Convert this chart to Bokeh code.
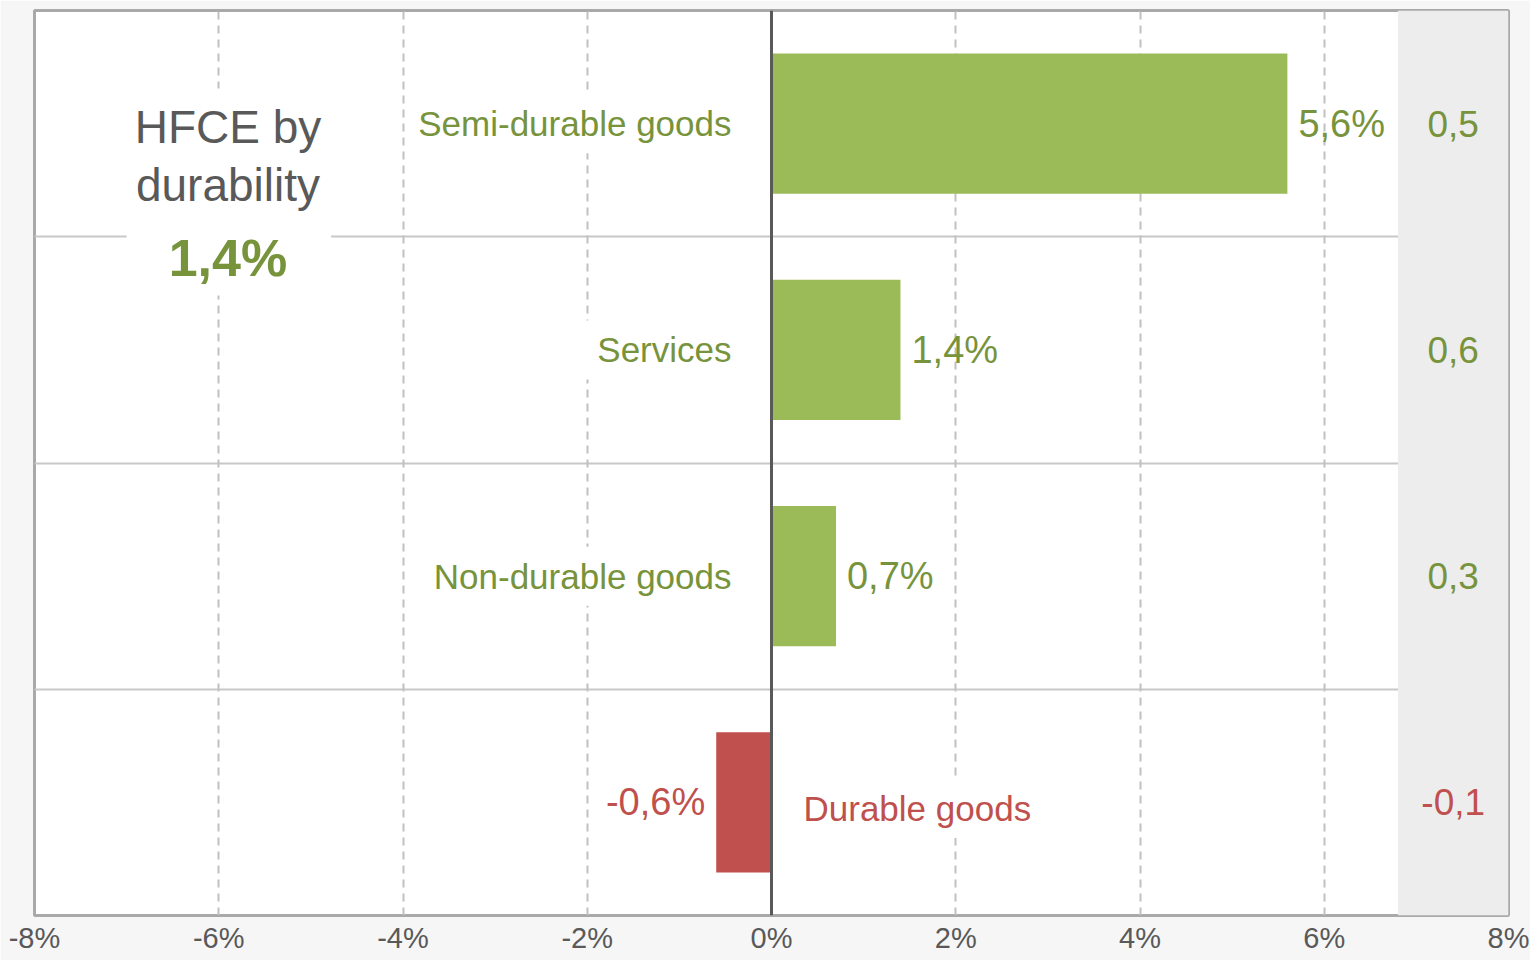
from bokeh.plotting import figure
from bokeh.models import Range1d, FixedTicker, PrintfTickFormatter, Span, BoxAnnotation, ColumnDataSource
from bokeh.core.properties import value
from bokeh.embed import file_html
from bokeh.resources import INLINE

# ---- data ----
categories = ["Semi-durable goods", "Services", "Non-durable goods", "Durable goods"]
growth = [5.6, 1.4, 0.7, -0.6]            # annual growth, %
contribution = [0.5, 0.6, 0.3, -0.1]      # contribution to HFCE growth, pp
total_growth = 1.4
title_lines = ["HFCE by", "durability"]
x_ticks = [-8, -6, -4, -2, 0, 2, 4, 6, 8]

GREEN_BAR = "#9BBB59"
GREEN_TXT = "#77933C"
RED = "#C0504D"
GREY_TXT = "#595959"
FONT = "Liberation Sans"

def fmt(v, pct=True):
    s = f"{v:.1f}".replace(".", ",")
    return s + ("%" if pct else "")

n = len(categories)
ypos = [n - i - 0.5 for i in range(n)]
bar_col = [GREEN_BAR if g >= 0 else RED for g in growth]
txt_col = [GREEN_TXT if g >= 0 else RED for g in growth]

band_left = 6.8
x_lo, x_hi = x_ticks[0], x_ticks[-1]

src = ColumnDataSource(dict(
    cat=categories, y=ypos, g=growth, c=contribution,
    bar=bar_col, tc=txt_col,
    glab=[fmt(g) for g in growth],
    clab=[fmt(c, False) for c in contribution],
    zero=[0] * n,
    cx=[(band_left + x_hi) / 2] * n,
))

def subset(pos):
    idx = [i for i, g in enumerate(growth) if (g >= 0) == pos]
    d = {k: [v[i] for i in idx] for k, v in src.data.items()}
    return ColumnDataSource(d)

pos_src = subset(True)
neg_src = subset(False)

p = figure(width=1530, height=960, output_backend="svg", toolbar_location=None,
           x_range=Range1d(x_lo, x_hi), y_range=Range1d(0, n),
           min_border_left=34, min_border_right=22, min_border_top=10, min_border_bottom=45)
p.background_fill_color = "white"
p.border_fill_color = "#f6f6f6"
p.outline_line_color = "#a9a9a9"
p.outline_line_width = 3

# axes
p.yaxis.visible = False
p.xaxis.ticker = FixedTicker(ticks=x_ticks)
p.xaxis.formatter = PrintfTickFormatter(format="%d%%")
p.xaxis.axis_line_color = None
p.xaxis.major_tick_line_color = None
p.xaxis.major_tick_out = 0
p.xaxis.major_tick_in = 0
p.xaxis.minor_tick_line_color = None
p.xaxis.minor_tick_out = 0
p.xaxis.major_label_text_font = FONT
p.xaxis.major_label_text_font_size = "29px"
p.xaxis.major_label_text_color = GREY_TXT
p.xaxis.major_label_standoff = 6

# grids
p.xgrid.ticker = FixedTicker(ticks=[t for t in x_ticks if t not in (x_lo, 0, x_hi)])
p.xgrid.grid_line_color = "#c0c0c0"
p.xgrid.grid_line_width = 2
p.xgrid.grid_line_dash = "8 6"
p.ygrid.visible = False

# grey contribution band
p.add_layout(BoxAnnotation(left=band_left, fill_color="#ededed", fill_alpha=1.0,
                           line_color=None, level="underlay"))

# category separators
sep = p.hspan(y=list(range(1, n)), line_color="#c8c8c8", line_width=2)
sep.level = "underlay"

# bars
p.hbar(y="y", left="zero", right="g", height=0.62, fill_color="bar", line_color=None, source=src)

# zero line
p.add_layout(Span(location=0, dimension="height", line_color=GREY_TXT, line_width=3))

# category labels (white boxes hide gridlines behind them)
p.text(x="zero", y="y", text="cat", source=pos_src, text_align="right", text_baseline="middle",
       x_offset=-28, text_color="tc", text_font=value(FONT), text_font_size="35px",
       background_fill_color="white", padding=(12, 10))
p.text(x="zero", y="y", text="cat", source=neg_src, text_align="left", text_baseline="middle",
       x_offset=20, y_offset=6, text_color="tc", text_font=value(FONT), text_font_size="35px",
       background_fill_color="white", padding=(12, 10))

# value labels
p.text(x="g", y="y", text="glab", source=pos_src, text_align="left", text_baseline="middle",
       x_offset=11, text_color="tc", text_font=value(FONT), text_font_size="38px")
p.text(x="g", y="y", text="glab", source=neg_src, text_align="right", text_baseline="middle",
       x_offset=-11, text_color="tc", text_font=value(FONT), text_font_size="38px")

# contributions
p.text(x="cx", y="y", text="clab", source=src, text_align="center", text_baseline="middle",
       text_color="tc", text_font=value(FONT), text_font_size="37px")

# title block on a white box
tx = -5.9
top_y = ypos[0]
p.quad(left=[tx - 1.1], right=[tx + 1.12], top=[top_y + 0.155], bottom=[top_y - 0.76],
       fill_color="white", line_color=None)
p.text(x=[tx], y=[top_y - 0.017], text=[title_lines[0]], text_align="center", text_baseline="middle",
       text_color=GREY_TXT, text_font=value(FONT), text_font_size="46px")
p.text(x=[tx], y=[top_y - 0.27], text=[title_lines[1]], text_align="center", text_baseline="middle",
       text_color=GREY_TXT, text_font=value(FONT), text_font_size="46px")
p.text(x=[tx], y=[top_y - 0.592], text=[fmt(total_growth)], text_align="center", text_baseline="middle",
       text_color=GREEN_TXT, text_font=value(FONT), text_font_size="52px", text_font_style="bold")

open("out.html", "w").write(file_html(p, INLINE))
